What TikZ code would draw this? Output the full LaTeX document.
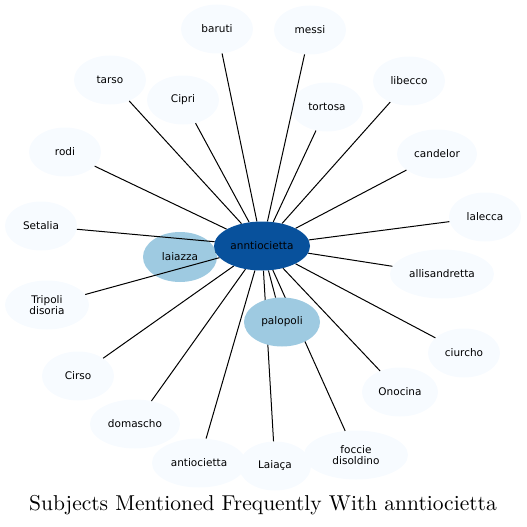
\documentclass[tikz,border=0pt]{standalone}
\usepackage{fontspec}
\newfontfamily\labelfont{DejaVu Sans}
\newfontfamily\titlefont[Extension=.otf]{lmroman10-regular}
\usetikzlibrary{shapes.geometric}

\definecolor{hubblue}{HTML}{08519C}
\definecolor{midblue}{HTML}{9ECAE1}
\definecolor{paleblue}{HTML}{F7FBFF}

\begin{document}
\begin{tikzpicture}[x=1pt,y=-1pt]
    % Styling
    \tikzset{
        topic/.style={ellipse, fill=paleblue, inner sep=0pt, minimum width=72pt,
            minimum height=49pt, align=center, font=\labelfont\fontsize{10.5}{12}\selectfont},
        topic_mid/.style={topic, fill=midblue},
        topic_hub/.style={topic, fill=hubblue},
        link/.style={black, line width=1pt}
    }
    \useasboundingbox (0,0) rectangle (527,527);

    % Outer subjects
    \node[topic] (baruti) at (217,29) {baruti};
    \node[topic] (messi) at (310,30) {messi};
    \node[topic] (tarso) at (110,80) {tarso};
    \node[topic] (libecco) at (409,81) {libecco};
    \node[topic] (cipri) at (183,100) {Cipri};
    \node[topic] (tortosa) at (327,107) {tortosa};
    \node[topic] (rodi) at (65,152) {rodi};
    \node[topic, minimum width=80pt] (candelor) at (437,154) {candelor};
    \node[topic] (lalecca) at (485,217) {lalecca};
    \node[topic] (setalia) at (41,226) {Setalia};
    \node[topic, minimum width=104pt] (allisandretta) at (442,274) {allisandretta};
    \node[topic, minimum width=84pt] (tripoli) at (47,305) {Tripoli\\[-1pt]disoria};
    \node[topic] (ciurcho) at (464,353) {ciurcho};
    \node[topic] (cirso) at (78,376) {Cirso};
    \node[topic, minimum width=76pt] (onocina) at (400,392) {Onocina};
    \node[topic, minimum width=90pt] (domascho) at (135,424) {domascho};
    \node[topic, minimum width=104pt] (foccie) at (356,455) {foccie\\[-1pt]disoldino};
    \node[topic, minimum width=94pt] (antiocietta) at (199,463) {antiocietta};
    \node[topic] (laiaca) at (275,466) {Laiaça};
    \node[topic_mid, minimum width=74pt, minimum height=50pt] (laiazza) at (180,257) {laiazza};

    % Hub placed now, drawn again later on top of the links
    \path (262,246) coordinate (hubc);
    \node[topic, minimum width=96pt, fill=none] (hub) at (hubc) {};
    \node[topic_mid, minimum width=76pt, fill=none] (palopoli) at (282,322) {};

    % Links
    \foreach \t in {baruti,messi,tarso,libecco,cipri,tortosa,rodi,candelor,lalecca,
        setalia,allisandretta,tripoli,ciurcho,cirso,onocina,domascho,foccie,
        antiocietta,laiaca,laiazza,palopoli} {
        \draw[link] (hub) -- (\t);
    }

    % Front nodes
    \node[topic_mid, minimum width=76pt] at (282,322) {palopoli};
    \node[topic_hub, minimum width=96pt] at (hubc) {anntiocietta};

    % Title
    \node[font=\titlefont\fontsize{21.5}{24}\selectfont] (title) at (263,505) {Subjects Mentioned Frequently With anntiocietta};
\end{tikzpicture}
\end{document}
